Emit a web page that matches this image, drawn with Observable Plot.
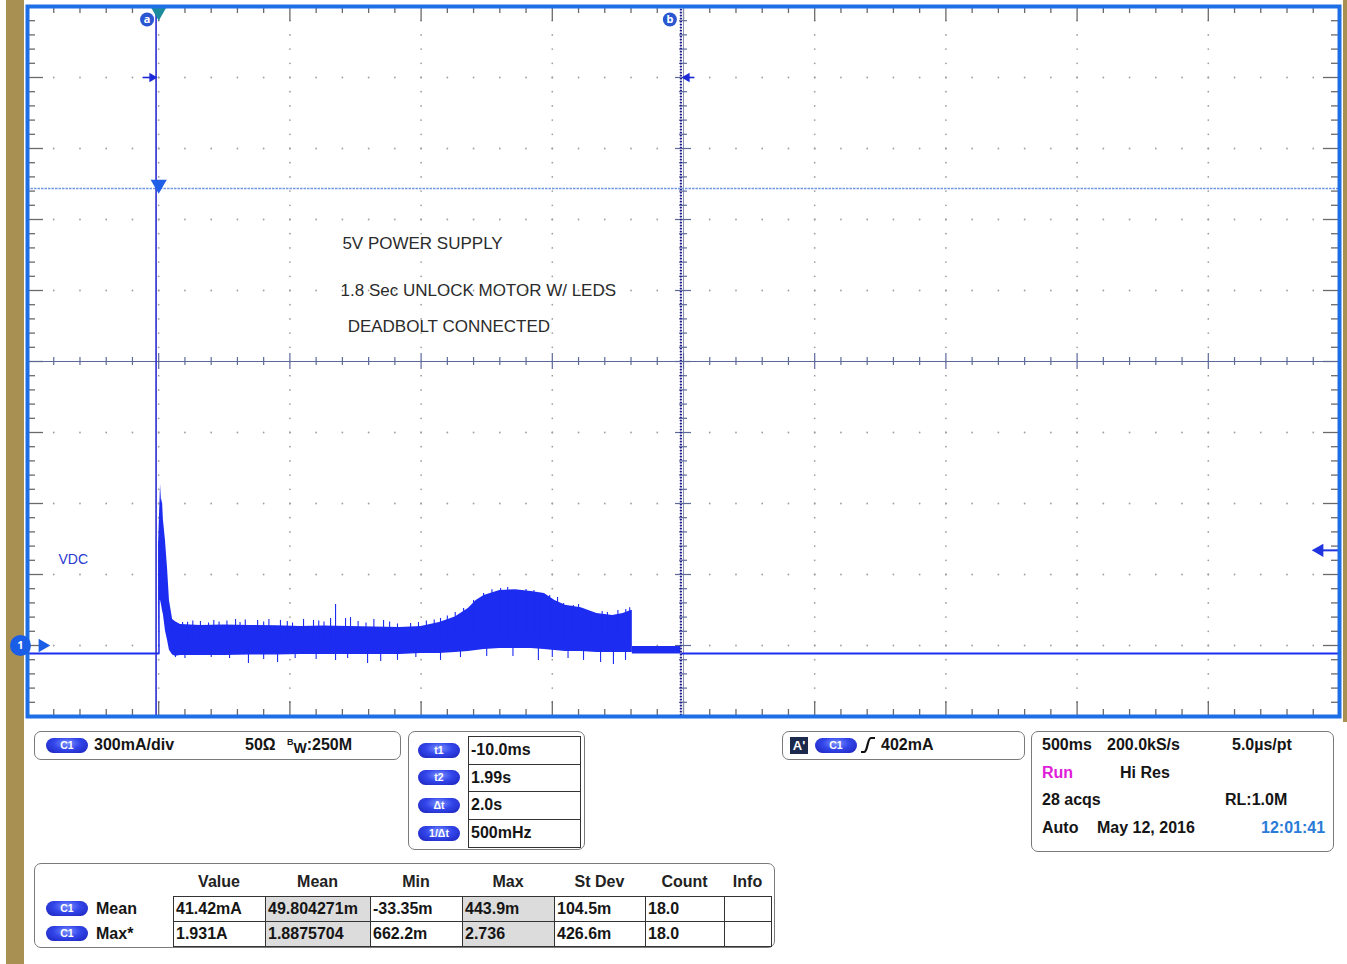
<!DOCTYPE html>
<html><head><meta charset="utf-8">
<script src="https://cdn.jsdelivr.net/npm/d3@7"></script>
<script src="https://cdn.jsdelivr.net/npm/@observablehq/plot@0.6"></script>
<style>
html,body{margin:0;padding:0;background:#fff;}
#wrap{position:relative;width:1347px;height:964px;overflow:hidden;background:#fff;font-family:"Liberation Sans",Arial,sans-serif;}
.tan{position:absolute;background:#a88f52;}
.box{position:absolute;border:1.5px solid #7a7a7a;border-radius:7px;box-sizing:border-box;background:#fff;}
.t{position:absolute;font-weight:bold;font-size:16px;color:#151515;white-space:nowrap;line-height:16px;}
.pill{position:absolute;width:42px;height:15px;border-radius:8px;background:radial-gradient(ellipse at 50% 35%,#7c93ff 0%,#3346ea 45%,#1a20b8 100%);color:#fff;font-size:10.5px;font-weight:bold;text-align:center;line-height:15px;}
.cell{position:absolute;border:1px solid #333;box-sizing:border-box;}
#plot{position:absolute;left:0;top:0;}
</style>
</head><body>
<div id="wrap">
  <div class="tan" style="left:6px;top:0;width:18px;height:964px"></div>
  <div class="tan" style="left:1343px;top:0;width:4px;height:722px"></div>
  <div id="plot"></div>
</div>
<script>
// ---------- DATA ----------
// trace envelope (time in s, current in A)
const envT  = [0, 0.003, 0.007, 0.011, 0.014, 0.018, 0.026, 0.034, 0.041, 0.053, 0.064, 0.083, 0.16, 0.25, 0.35, 0.45, 0.54, 0.63, 0.73, 0.82, 0.92, 1.00, 1.07, 1.13, 1.18, 1.21, 1.24, 1.30, 1.36, 1.42, 1.47, 1.51, 1.55, 1.61, 1.67, 1.73, 1.77, 1.80, 1.805];
const envHi = [0.44, 0.55, 0.68, 0.60, 0.62, 0.53, 0.44, 0.32, 0.19, 0.11, 0.10, 0.089, 0.085, 0.087, 0.085, 0.083, 0.080, 0.082, 0.080, 0.078, 0.076, 0.080, 0.097, 0.12, 0.156, 0.19, 0.211, 0.232, 0.236, 0.228, 0.220, 0.190, 0.170, 0.160, 0.135, 0.127, 0.135, 0.148, 0.148];
const envLo = [-0.03, 0.19, 0.19, 0.17, 0.15, 0.13, 0.06, 0.02, -0.02, -0.04, -0.045, -0.042, -0.042, -0.042, -0.040, -0.040, -0.038, -0.038, -0.038, -0.038, -0.038, -0.034, -0.034, -0.030, -0.025, -0.021, -0.017, -0.013, -0.013, -0.013, -0.017, -0.021, -0.025, -0.025, -0.030, -0.030, -0.030, -0.030, -0.030];
// flat segment after motor stops
const flatT  = [1.805, 1.99];
const flatHi = [-0.004, -0.004];
const flatLo = [-0.036, -0.036];
// idle baseline
const baseA = -0.034;
const preT  = [-0.5, 0];
const postT = [1.99, 4.5];
// noise spikes
const upT   = [0.053,0.091,0.11,0.13,0.159,0.19,0.21,0.23,0.26,0.293,0.31,0.33,0.377,0.40,0.42,0.464,0.49,0.51,0.552,0.590,0.61,0.63,0.655,0.674,0.712,0.731,0.76,0.79,0.82,0.857,0.88,0.91,0.960,0.99,1.02,1.05,1.074,1.10,1.13,1.162,1.20,1.238,1.27,1.303,1.33,1.367,1.40,1.43,1.455,1.49,1.52,1.543,1.58,1.60,1.646,1.69,1.71,1.722,1.75,1.78,1.787,1.795];
const upA   = [0.106,0.097,0.098,0.104,0.101,0.095,0.106,0.099,0.104,0.110,0.097,0.108,0.106,0.099,0.110,0.106,0.101,0.095,0.110,0.106,0.104,0.099,0.114,0.173,0.114,0.118,0.101,0.095,0.110,0.106,0.099,0.091,0.093,0.097,0.104,0.108,0.114,0.125,0.139,0.156,0.190,0.220,0.236,0.241,0.245,0.224,0.237,0.232,0.220,0.211,0.203,0.177,0.169,0.173,0.135,0.144,0.139,0.127,0.148,0.152,0.139,0.160];
const downT = [0.064,0.10,0.20,0.27,0.342,0.40,0.453,0.52,0.60,0.674,0.72,0.796,0.846,0.910,0.98,1.074,1.15,1.25,1.35,1.447,1.50,1.56,1.619,1.684,1.733,1.779];
const downA = [-0.051,-0.055,-0.051,-0.055,-0.076,-0.059,-0.072,-0.055,-0.059,-0.063,-0.055,-0.076,-0.068,-0.063,-0.051,-0.063,-0.051,-0.047,-0.047,-0.063,-0.051,-0.055,-0.063,-0.072,-0.080,-0.063];
// cursors and levels
const cursorA = -0.01, cursorB = 1.99;
const cursorLevel = 2.4;
const maxLevel = 1.931;
const trigLevel = 0.402;
// annotations
const noteLabels = ["5V POWER SUPPLY", "1.8 Sec UNLOCK MOTOR W/ LEDS", "DEADBOLT CONNECTED"];
const noteT = [0.700, 0.693, 0.720];
const noteA = [1.698, 1.500, 1.348];
const chLabel = "VDC";
// readout panel texts
const chanText = ["300mA/div", "50\u03A9", ":250M"];
const cursorTags = ["t1", "t2", "\u0394t", "1/\u0394t"];
const cursorVals = ["-10.0ms", "1.99s", "2.0s", "500mHz"];
const trigText = "402mA";
const acqRows = [["500ms","200.0kS/s","5.0\u00B5s/pt"],["Run","Hi Res",""],["28 acqs","","RL:1.0M"],["Auto","May 12, 2016","12:01:41"]];
const measHeaders = ["Value","Mean","Min","Max","St Dev","Count","Info"];
const measNames = ["Mean","Max*"];
const measRows = [["41.42mA","49.804271m","-33.35m","443.9m","104.5m","18.0",""],["1.931A","1.8875704","662.2m","2.736","426.6m","18.0",""]];

// ---------- CHART ----------
const xDom = [-0.5, 4.5], yDom = [-0.3, 2.7];
const W = 1347, H = 722, mL = 27, mR = 8, mT = 6, mB = 6;
const pxT = (xDom[1]-xDom[0])/(W-mL-mR), pxA = (yDom[1]-yDom[0])/(H-mT-mB);
const minorT = d3.range(0, 51).map(i => +(xDom[0] + i*0.1).toFixed(3));
const minorA = d3.range(0, 51).map(i => +(yDom[0] + i*0.06).toFixed(3));
const isMajT = t => Math.abs(Math.round((t - xDom[0])/0.5)*0.5 - (t - xDom[0])) < 1e-6;
const isMajA = a => Math.abs(Math.round((a - yDom[0])/0.3)*0.3 - (a - yDom[0])) < 1e-6;
const cT = 2.0, cA = 1.2;
const majT = minorT.filter(isMajT), majA = minorA.filter(isMajA);
const gridPts = [];
for (const t of majT) if (t > xDom[0] && t < xDom[1] && Math.abs(t-cT)>1e-6) for (const a of minorA) if (a > yDom[0] && a < yDom[1]) gridPts.push({t, a});
for (const a of majA) if (a > yDom[0] && a < yDom[1] && Math.abs(a-cA)>1e-6) for (const t of minorT) if (t > xDom[0] && t < xDom[1]) gridPts.push({t, a});
const inT = minorT.filter(t => t > xDom[0] + 1e-6 && t < xDom[1] - 1e-6);
const inA = minorA.filter(a => a > yDom[0] + 1e-6 && a < yDom[1] - 1e-6);
const env = envT.map((t,i) => ({t, hi: envHi[i], lo: envLo[i]}));
const flat = flatT.map((t,i) => ({t, hi: flatHi[i], lo: flatLo[i]}));
const ups = upT.map((t,i) => ({t, a: upA[i]}));
const downs = downT.map((t,i) => ({t, a: downA[i]}));
const notes = noteLabels.map((s,i) => ({s, t: noteT[i], a: noteA[i]}));
const TR = "#1c2cf0", TICK = "#6a6a6a";

const plot = Plot.plot({
  width: W, height: H, marginLeft: mL, marginRight: mR, marginTop: mT, marginBottom: mB,
  x: {domain: xDom, axis: null}, y: {domain: yDom, axis: null},
  style: {background: "transparent", overflow: "visible"},
  marks: [
    Plot.dot(gridPts, {x: "t", y: "a", r: 0.9, fill: "#a0a0a0"}),
    // edge ticks
    Plot.ruleX(inT, {x: d => d, y1: yDom[1], y2: d => yDom[1] - (isMajT(d) ? 15 : 7)*pxA, stroke: TICK, strokeWidth: 1.3}),
    Plot.ruleX(inT, {x: d => d, y1: yDom[0], y2: d => yDom[0] + (isMajT(d) ? 15 : 7)*pxA, stroke: TICK, strokeWidth: 1.3}),
    Plot.ruleY(inA, {y: d => d, x1: xDom[0], x2: d => xDom[0] + (isMajA(d) ? 16 : 8)*pxT, stroke: TICK, strokeWidth: 1.3}),
    Plot.ruleY(inA, {y: d => d, x1: xDom[1], x2: d => xDom[1] - (isMajA(d) ? 16 : 8)*pxT, stroke: TICK, strokeWidth: 1.3}),
    // centre cross
    Plot.ruleY([cA], {stroke: "#5d6a98", strokeWidth: 1.2}),
    Plot.ruleX([cT], {stroke: "#8a90b0", strokeWidth: 1}),
    Plot.ruleX(inT, {x: d => d, y1: d => cA - (isMajT(d) ? 8 : 4)*pxA, y2: d => cA + (isMajT(d) ? 8 : 4)*pxA, stroke: "#5d6a98", strokeWidth: 1.2}),
    Plot.ruleY(inA, {y: d => d, x1: d => cT - (isMajA(d) ? 8 : 4)*pxT, x2: d => cT + (isMajA(d) ? 8 : 4)*pxT, stroke: "#5d6a98", strokeWidth: 1.2}),
    // max level line
    Plot.ruleY([maxLevel], {stroke: "#7196e4", strokeWidth: 1.6, strokeDasharray: "2.5,1"}),
    // trace
    Plot.line(preT, {x: d => d, y: () => baseA, stroke: TR, strokeWidth: 2}),
    Plot.line(postT, {x: d => d, y: () => baseA, stroke: TR, strokeWidth: 2}),
    Plot.areaY(env, {x: "t", y1: "lo", y2: "hi", fill: TR, curve: "linear"}),
    Plot.areaY(flat, {x: "t", y1: "lo", y2: "hi", fill: TR}),
    Plot.ruleX(ups, {x: "t", y1: 0.03, y2: "a", stroke: TR, strokeWidth: 1.1}),
    Plot.ruleX(downs, {x: "t", y1: 0.0, y2: "a", stroke: TR, strokeWidth: 1.1}),
    Plot.ruleX([0.001], {y1: baseA, y2: 0.44, stroke: TR, strokeWidth: 1.5}),
    // cursors
    Plot.ruleX([cursorA], {stroke: "#2b2bd0", strokeWidth: 1.6}),
    Plot.ruleX([cursorB], {stroke: "#8a8ab8", strokeWidth: 1}),
    Plot.ruleX([cursorB], {stroke: "#1e1e90", strokeWidth: 2.2, strokeDasharray: "1.2,1.8"}),
    Plot.ruleY([cursorLevel], {x1: cursorA - 13*pxT, x2: cursorA - 3*pxT, stroke: "#1e2ad8", strokeWidth: 1.6}),
    Plot.dot([cursorA - 4*pxT], {x: d => d, y: () => cursorLevel, symbol: "triangle", rotate: 90, r: 3.5, fill: "#1e2ad8"}),
    Plot.ruleY([cursorLevel], {x1: cursorB + 3*pxT, x2: cursorB + 14*pxT, stroke: "#1e2ad8", strokeWidth: 1.6}),
    Plot.dot([cursorB + 6*pxT], {x: d => d, y: () => cursorLevel, symbol: "triangle", rotate: -90, r: 3.5, fill: "#1e2ad8"}),
    Plot.dot([{t: cursorA - 9*pxT, s: "a"}, {t: cursorB - 11*pxT, s: "b"}], {x: "t", y: () => yDom[1] - 13*pxA, r: 7, fill: "#2a56d2"}),
    Plot.text([{t: cursorA - 9*pxT, s: "a"}, {t: cursorB - 11*pxT, s: "b"}], {x: "t", y: () => yDom[1] - 13*pxA, text: "s", fill: "white", fontSize: 11, fontWeight: "bold"}),
    // trigger markers
    Plot.dot([0], {x: d => d, y: () => yDom[1], dy: 5, symbol: "triangle", rotate: 180, r: 6, fill: "#1a8c9c"}),
    Plot.dot([0], {x: d => d, y: () => maxLevel, dy: -4, symbol: "triangle", rotate: 180, r: 6, fill: "#1f5fe8"}),
    Plot.ruleY([trigLevel], {x1: xDom[1] - 24*pxT, x2: xDom[1], stroke: "#2035e0", strokeWidth: 2}),
    Plot.dot([xDom[1] - 20*pxT], {x: d => d, y: () => trigLevel, symbol: "triangle", rotate: -90, r: 5, fill: "#2035e0"}),
    // annotations
    Plot.text(notes, {x: "t", y: "a", text: "s", textAnchor: "start", fontSize: 17, fill: "#2b2b2b", fontFamily: "Liberation Sans, Arial, sans-serif"}),
    Plot.text([chLabel], {x: () => xDom[0] + 31*pxT, y: () => 0.363, text: d => d, textAnchor: "start", fontSize: 14, fill: "#2a3ad0", fontFamily: "Liberation Sans, Arial, sans-serif"}),
    // frame
    Plot.frame({stroke: "#1e6ee6", strokeWidth: 4}),
    // channel marker
    Plot.dot([0], {x: () => xDom[0] - 7*pxT, y: d => d, r: 10.5, fill: "#1a5de6"}),
    Plot.text(["1"], {x: () => xDom[0] - 7*pxT, y: () => 0, text: d => d, fill: "white", fontSize: 11, fontWeight: "bold"}),
    Plot.dot([0], {x: () => xDom[0] + 15*pxT, y: d => d, symbol: "triangle", rotate: 90, r: 5, fill: "#1a5de6"})
  ]
});
document.getElementById("plot").appendChild(plot);

// ---------- READOUT PANEL ----------
const wrap = document.getElementById("wrap");
function el(cls, x, y, w, h, html, style) {
  const d = document.createElement("div");
  d.className = cls;
  d.style.left = x + "px"; d.style.top = y + "px";
  if (w != null) d.style.width = w + "px";
  if (h != null) d.style.height = h + "px";
  if (html != null) d.innerHTML = html;
  if (style) Object.assign(d.style, style);
  wrap.appendChild(d);
  return d;
}
const txt = (x, cy, s, style) => el("t", x, cy - 8, null, null, s, style);
const pill = (x, cy, s) => el("pill", x, cy - 7.5, null, null, s);

// channel box
el("box", 34, 731, 367, 29);
pill(46, 745, "C1");
txt(94, 745, chanText[0]);
txt(245, 745, chanText[1]);
txt(287, 745, '<span style="font-size:9px;position:relative;top:-5px">B</span><span style="font-size:14px;position:relative;top:3px">W</span>' + chanText[2]);

// cursor box
el("box", 408, 731, 177, 119);
const cRows = [736, 764, 791, 819, 847];
cursorTags.forEach((tag, i) => {
  const cy = (cRows[i] + cRows[i+1]) / 2;
  pill(418, cy, tag);
  el("cell", 468, cRows[i], 113, cRows[i+1] - cRows[i] + 1);
  txt(471, cy, cursorVals[i]);
});

// trigger box
el("box", 782, 731, 243, 29);
el("t", 790, 737, 18, 17, "A'", {background: "#1c2a4e", color: "#fff", fontSize: "13px", lineHeight: "17px", textAlign: "center"});
pill(815, 745, "C1");
el("t", 860, 736, 16, 18, '<svg width="16" height="18"><path d="M1,16 L4,16 Q6,16 7.5,9 Q9,2 11,2 L15,2" fill="none" stroke="#111" stroke-width="2.2"/></svg>');
txt(881, 745, trigText);

// acquisition box
el("box", 1031, 731, 303, 121);
const acqY = [745, 773, 800, 828];
const acqX = [[1042, 1107, 1232], [1042, 1120, 0], [1042, 0, 1225], [1042, 1097, 1261]];
acqRows.forEach((row, r) => row.forEach((s, c) => {
  if (!s) return;
  const style = (r === 1 && c === 0) ? {color: "#e020d8", fontWeight: "bold"} : (r === 3 && c === 2) ? {color: "#2a7ad8"} : null;
  txt(acqX[r][c], acqY[r], s, style);
}));

// measurement box
el("box", 34, 863, 741, 85);
const colX = [173, 265, 370, 462, 554, 645, 724, 771];
const rowY = [896, 921, 946];
measHeaders.forEach((h, i) => {
  el("t", colX[i], 874, colX[i+1] - colX[i], null, h, {textAlign: "center", fontWeight: "bold", color: "#222"});
});
measNames.forEach((n, r) => {
  const cy = (rowY[r] + rowY[r+1]) / 2;
  pill(46, cy, "C1");
  txt(96, cy, n);
  measRows[r].forEach((v, c) => {
    el("cell", colX[c], rowY[r], colX[c+1] - colX[c] + 1, rowY[r+1] - rowY[r] + 1, null, (c === 1 || c === 3) ? {background: "#dcdcdc"} : null);
    if (v) txt(colX[c] + 3, cy, v);
  });
});
</script>
</body></html>
